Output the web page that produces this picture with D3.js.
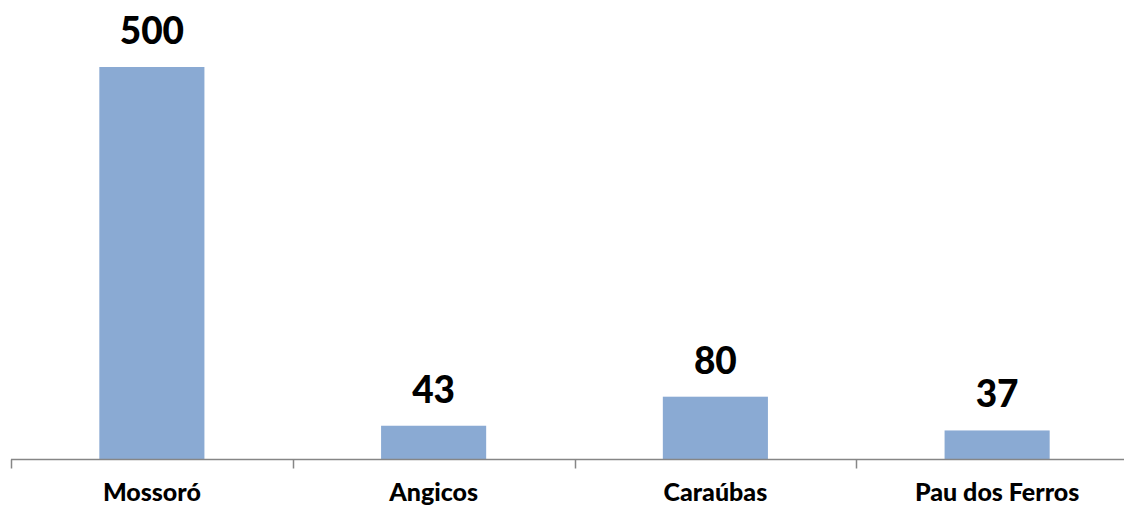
<!DOCTYPE html>
<html>
<head>
<meta charset="utf-8">
<script src="https://cdn.jsdelivr.net/npm/d3@7"></script>
<style>
    body { margin: 0; background: #fff; }
    svg { display: block; }
</style>
</head>
<body>
<div id="container"></div>
<script>
// chart data
const cities = ["Mossoró", "Angicos", "Caraúbas", "Pau dos Ferros"];
const counts = [500, 43, 80, 37];

const width = 1124;
const height = 508;
const axisY = 459.5;
const FONT = "Lato, 'Open Sans', sans-serif";

const svg = d3
    .select("#container")
    .append("svg")
    .attr("width", width)
    .attr("height", height);

// band scale runs past the right edge, like the cropped original
const x = d3.scaleBand().domain(cities).range([11, 1138]).paddingInner(0.627).paddingOuter(0.3135);
const y = d3.scaleLinear().domain([0, 500]).range([axisY, 67]);

// bars
svg.selectAll("rect.bar")
    .data(counts)
    .join("rect")
    .attr("class", "bar")
    .attr("x", (d, i) => x(cities[i]))
    .attr("y", (d) => y(d))
    .attr("width", x.bandwidth())
    .attr("height", (d) => axisY - y(d))
    .attr("fill", "#8aaad3");

// value labels
svg.selectAll("text.value")
    .data(counts)
    .join("text")
    .attr("class", "value")
    .attr("x", (d, i) => x(cities[i]) + x.bandwidth() / 2)
    .attr("y", (d) => y(d) - 23)
    .attr("text-anchor", "middle")
    .attr("font-family", FONT)
    .attr("font-weight", 900)
    .attr("font-size", 37)
    .attr("fill", "#000")
    .text((d) => d);

// category axis: line + ticks between categories
const step = x.step();
const tickXs = d3.range(cities.length + 1).map((i) => 11 + i * step);
svg.append("line")
    .attr("x1", 11)
    .attr("x2", 1138)
    .attr("y1", axisY)
    .attr("y2", axisY)
    .attr("stroke", "#868686")
    .attr("stroke-width", 1.5);
svg.selectAll("line.tick")
    .data(tickXs)
    .join("line")
    .attr("class", "tick")
    .attr("x1", (d) => Math.round(d) + 0.5)
    .attr("x2", (d) => Math.round(d) + 0.5)
    .attr("y1", axisY)
    .attr("y2", axisY + 9)
    .attr("stroke", "#868686")
    .attr("stroke-width", 1.5);

svg.selectAll("text.cat")
    .data(cities)
    .join("text")
    .attr("class", "cat")
    .attr("x", (d) => x(d) + x.bandwidth() / 2)
    .attr("y", 501)
    .attr("text-anchor", "middle")
    .attr("font-family", FONT)
    .attr("font-weight", 900)
    .attr("font-size", 25)
    .attr("fill", "#000")
    .text((d) => d);
</script>
</body>
</html>
